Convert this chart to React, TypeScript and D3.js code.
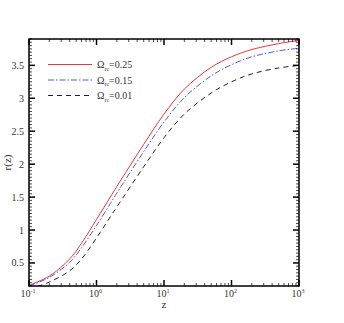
import React from "react";
import * as d3 from "d3";

// redshift grid and r(z) for each Omega_rc
const zValues = [0.1, 0.2, 0.4, 0.6, 1, 1.6, 2, 5, 10, 20, 50, 100, 200, 500, 1000];
const rOmega025 = [0.16, 0.3, 0.56, 0.8, 1.16, 1.5, 1.66, 2.3, 2.76, 3.14, 3.47, 3.63, 3.74, 3.83, 3.88];
const rOmega015 = [0.15, 0.28, 0.51, 0.73, 1.07, 1.4, 1.56, 2.19, 2.64, 3.01, 3.34, 3.51, 3.63, 3.72, 3.76];
const rOmega001 = [0.1, 0.21, 0.38, 0.56, 0.88, 1.2, 1.35, 1.96, 2.4, 2.76, 3.08, 3.25, 3.37, 3.46, 3.5];
const seriesLabels = ["0.25", "0.15", "0.01"];
const yTicks = [0.5, 1, 1.5, 2, 2.5, 3, 3.5];
const yTickLabels = ["0.5", "1", "1.5", "2", "2.5", "3", "3.5"];
const xExponents = [-1, 0, 1, 2, 3];

const W = 344;
const H = 323;
const m = { left: 29, right: 299, top: 39, bottom: 286 };
const font = "Liberation Serif, Times New Roman, serif";

export default function App() {
  const x = d3.scaleLog().domain([0.1, 1000]).range([m.left, m.right]);
  const y = d3.scaleLinear().domain([0.15, 3.9]).range([m.bottom, m.top]);

  const line = d3
    .line<number>()
    .x((_, i) => x(zValues[i]))
    .y((d) => y(d))
    .curve(d3.curveCatmullRom.alpha(0.5));

  const series = [
    { vals: rOmega025, color: "#e8383a", dash: "none" },
    { vals: rOmega015, color: "#5555ee", dash: "6,2,1.5,2" },
    { vals: rOmega001, color: "#222", dash: "5,4" },
  ];

  // minor ticks
  const xMinor: number[] = [];
  for (let e = -1; e < 3; e++) {
    for (let k = 2; k <= 9; k++) xMinor.push(k * Math.pow(10, e));
  }
  const yMinor: number[] = [];
  for (let v = 0.15; v <= 3.9; v += 0.05) {
    const r = Math.round(v * 100) / 100;
    if (Math.abs(r * 2 - Math.round(r * 2)) > 1e-6) yMinor.push(r);
  }

  return (
    <svg width={W} height={H} style={{ position: "absolute", left: 0, top: 0 }}>
      <rect width={W} height={H} fill="white" />
      <defs>
        <clipPath id="plot">
          <rect x={m.left} y={m.top} width={m.right - m.left} height={m.bottom - m.top} />
        </clipPath>
      </defs>

      {/* curves */}
      <g clipPath="url(#plot)">
        {series.map((s, i) => (
          <path
            key={i}
            d={line(s.vals) || ""}
            fill="none"
            stroke={s.color}
            strokeWidth={1}
            strokeDasharray={s.dash}
          />
        ))}
      </g>

      {/* ticks on all four sides */}
      <g stroke="#000">
        {xExponents.map((e) => {
          const px = x(Math.pow(10, e));
          return (
            <g key={"xm" + e}>
              <line x1={px} x2={px} y1={m.bottom} y2={m.bottom - 6} strokeWidth={1.5} />
              <line x1={px} x2={px} y1={m.top} y2={m.top + 6} strokeWidth={1.5} />
            </g>
          );
        })}
        {xMinor.map((v, i) => (
          <g key={"xn" + i}>
            <line x1={x(v)} x2={x(v)} y1={m.bottom} y2={m.bottom - 3} strokeWidth={0.7} />
            <line x1={x(v)} x2={x(v)} y1={m.top} y2={m.top + 3} strokeWidth={0.7} />
          </g>
        ))}
        {yTicks.map((v) => (
          <g key={"ym" + v}>
            <line x1={m.left} x2={m.left + 6} y1={y(v)} y2={y(v)} strokeWidth={1.5} />
            <line x1={m.right} x2={m.right - 6} y1={y(v)} y2={y(v)} strokeWidth={1.5} />
          </g>
        ))}
        {yMinor.map((v, i) => (
          <g key={"yn" + i}>
            <line x1={m.left} x2={m.left + 3} y1={y(v)} y2={y(v)} strokeWidth={0.7} />
            <line x1={m.right} x2={m.right - 3} y1={y(v)} y2={y(v)} strokeWidth={0.7} />
          </g>
        ))}
      </g>

      {/* frame */}
      <rect
        x={m.left}
        y={m.top}
        width={m.right - m.left}
        height={m.bottom - m.top}
        fill="none"
        stroke="#000"
        strokeWidth={1.5}
      />

      {/* tick labels */}
      <g fontFamily={font} fontSize={10} fill="#333">
        {yTicks.map((v, i) => (
          <text key={"yl" + v} x={m.left - 5} y={y(v)} dy="0.35em" textAnchor="end">
            {yTickLabels[i]}
          </text>
        ))}
        {xExponents.map((e) => (
          <text key={"xl" + e} x={x(Math.pow(10, e)) - 1} y={297} textAnchor="middle">
            10
            <tspan dy={-4} fontSize={6}>
              {e}
            </tspan>
          </text>
        ))}
        <text x={(m.left + m.right) / 2} y={308} textAnchor="middle" fontSize={11}>
          z
        </text>
        <text
          transform={`translate(11, ${(m.top + m.bottom) / 2}) rotate(-90)`}
          textAnchor="middle"
          fontSize={11}
        >
          r(z)
        </text>
      </g>

      {/* legend */}
      <g fontFamily={font} fontSize={10} fill="#333">
        {series.map((s, i) => {
          const ly = 64.5 + i * 15.5;
          return (
            <g key={"lg" + i}>
              <line
                x1={48}
                x2={92}
                y1={ly}
                y2={ly}
                stroke={s.color}
                strokeWidth={1}
                strokeDasharray={s.dash}
              />
              <text x={97} y={ly + 3.5}>
                Ω
                <tspan dy={2.5} fontSize={6}>
                  rc
                </tspan>
                <tspan dy={-2.5}>={seriesLabels[i]}</tspan>
              </text>
            </g>
          );
        })}
      </g>
    </svg>
  );
}
